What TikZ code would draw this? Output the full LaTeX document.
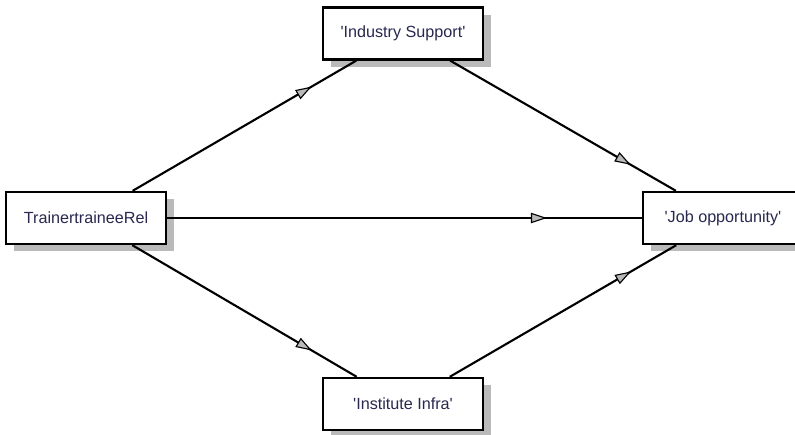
\documentclass[tikz,border=0pt]{standalone}
\usepackage{fontspec}
\setmainfont{Liberation Sans}
\usetikzlibrary{arrows.meta, positioning, shadows, decorations.markings}

\definecolor{labelblue}{RGB}{40,40,80}
\newcommand{\q}{\textquotesingle}

\begin{document}
\begin{tikzpicture}[
    font=\fontsize{11.5}{13}\selectfont,
    construct/.style={
        draw=black,
        fill=white,
        line width=1.7pt,
        minimum width=4cm,
        minimum height=1.3cm,
        align=center,
        text=labelblue,
        drop shadow={shadow xshift=0.2cm, shadow yshift=-0.18cm,
                     fill=black!27, opacity=1}
    },
    path/.style={
        line width=1.5pt,
        postaction={decorate},
        decoration={markings,
            mark=at position 0.8 with {\arrow[line width=0.8pt]{Triangle[length=4mm, width=2.6mm, fill=gray!55]}}}
    }
]

\useasboundingbox (0,0) rectangle (19.875,10.875);

% --- CONSTRUCTS -------------------------------------------------

\node[construct] (trainer) at (2.15,5.425) {TrainertraineeRel};
\node[construct] (industry) at (10.075,10.04) {\q Industry Support\q};
\node[construct] (job) at (18.075,5.425) {\q Job opportunity\q};
\node[construct] (infra) at (10.075,0.775) {\q Institute Infra\q};

% --- PATHS ------------------------------------------------------

\draw[path] (trainer) -- (industry);
\draw[path] (industry) -- (job);
\draw[path] (trainer) -- (job);
\draw[path] (trainer) -- (infra);
\draw[path] (infra) -- (job);

\end{tikzpicture}
\end{document}
